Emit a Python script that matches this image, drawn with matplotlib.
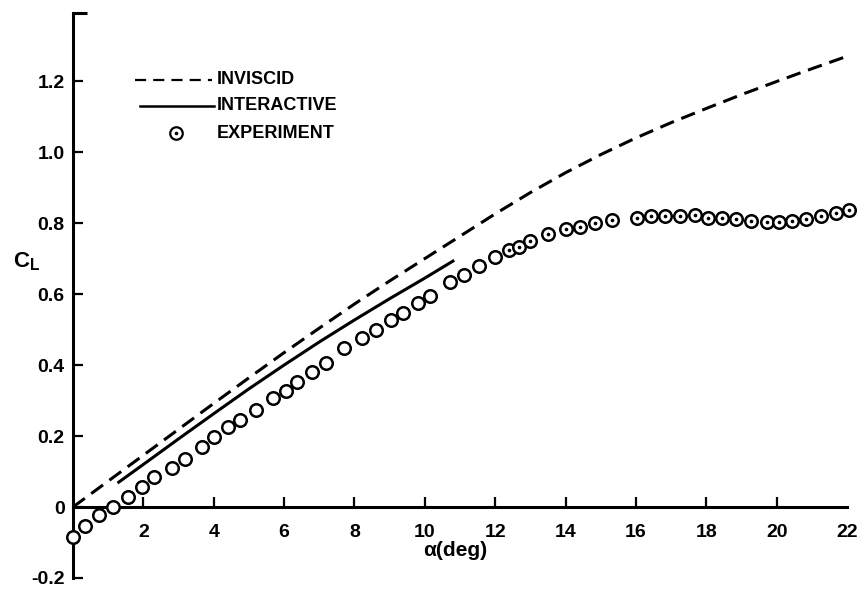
import matplotlib
matplotlib.use("Agg")
import matplotlib.pyplot as plt
import numpy as np

# ---- data ----
inv_alpha = [0, 1, 2, 3, 4, 5, 6, 7, 8, 9, 10, 11, 12, 13, 14, 15, 16, 17,
             18, 19, 20, 21, 22]
inv_cl = [0.0, 0.073, 0.146, 0.219, 0.292, 0.364, 0.435, 0.504, 0.572, 0.637,
          0.70, 0.763, 0.826, 0.886, 0.942, 0.993, 1.04, 1.083, 1.123, 1.162,
          1.199, 1.235, 1.27]

int_alpha = [1.3, 2, 3, 4, 5, 6, 7, 8, 9, 10, 10.8]
int_cl = [0.07, 0.12, 0.192, 0.263, 0.333, 0.40, 0.465, 0.527, 0.587, 0.645,
          0.693]

exp_alpha = [0.0, 0.34, 0.75, 1.15, 1.55, 1.95, 2.3, 2.8, 3.17, 3.66, 4.0, 4.4,
             4.75, 5.2, 5.69, 6.05, 6.37, 6.8, 7.2, 7.71, 8.22, 8.62, 9.05, 9.39,
             9.81, 10.16, 10.72, 11.1, 11.55, 12.0, 12.38, 12.69, 13.0, 13.5, 14.0,
             14.4, 14.85, 15.33, 16.03, 16.42, 16.84, 17.24, 17.67, 18.04, 18.44,
             18.84, 19.26, 19.74, 20.06, 20.45, 20.83, 21.25, 21.68, 22.05]
exp_cl = [-0.085, -0.054, -0.023, 0.0, 0.028, 0.057, 0.085, 0.11, 0.135, 0.17,
          0.197, 0.226, 0.245, 0.273, 0.307, 0.328, 0.352, 0.38, 0.405, 0.448,
          0.476, 0.50, 0.527, 0.547, 0.574, 0.594, 0.634, 0.654, 0.68, 0.704,
          0.724, 0.733, 0.75, 0.769, 0.783, 0.79, 0.80, 0.81, 0.815, 0.82, 0.82,
          0.82, 0.823, 0.815, 0.814, 0.811, 0.806, 0.803, 0.803, 0.806, 0.811,
          0.82, 0.828, 0.837]

xticks = [2, 4, 6, 8, 10, 12, 14, 16, 18, 20, 22]
xticklabels = ["2", "4", "6", "8", "10", "12", "14", "16", "18", "20", "22"]
yticks = [-0.2, 0, 0.2, 0.4, 0.6, 0.8, 1.0, 1.2]
yticklabels = ["-0.2", "0", "0.2", "0.4", "0.6", "0.8", "1.0", "1.2"]
legend_labels = ["INVISCID", "INTERACTIVE", "EXPERIMENT"]

FONT = ['Liberation Sans Narrow', 'Liberation Sans', 'DejaVu Sans']
plt.rcParams['font.family'] = FONT

fig = plt.figure(figsize=(8.64, 5.90), dpi=100)
ax = fig.add_axes([73/864, 1 - 578/590, (847-73)/864, (578-13)/590])
ax.set_xlim(0, 22)
ax.set_ylim(-0.2, 1.392)

k = 'black'
ax.plot(inv_alpha, inv_cl, color=k, lw=2.2, dashes=(4.8, 2.6), zorder=3)
ax.plot(int_alpha, int_cl, color=k, lw=2.2, zorder=3)
ax.plot(exp_alpha, exp_cl, linestyle='none', marker='o', markersize=9,
        markerfacecolor='white', markeredgecolor=k, markeredgewidth=1.8,
        zorder=5, clip_on=False)
ea = np.array(exp_alpha); ec = np.array(exp_cl)
m = ea >= 12.3
ax.plot(ea[m], ec[m], linestyle='none', marker='o', markersize=1.6,
        color=k, zorder=6, clip_on=False)

# spines
for s in ['top', 'right']:
    ax.spines[s].set_visible(False)
ax.spines['left'].set_linewidth(2.2)
ax.spines['bottom'].set_linewidth(2.2)
ax.spines['bottom'].set_position(('data', 0))
ax.spines['bottom'].set_bounds(0, 22)

ax.set_xticks(xticks)
ax.set_xticklabels(xticklabels, fontsize=14, fontweight='bold')
ax.set_yticks(yticks)
ax.set_yticklabels(yticklabels, fontsize=14, fontweight='bold')
ax.tick_params(axis='x', direction='in', length=7, width=1.6, pad=12)
ax.tick_params(axis='y', direction='in', length=7, width=1.6, pad=6)
ax.set_yticks([1.392], minor=True)
ax.tick_params(axis='y', which='minor', direction='in', length=10, width=2.2)
ax.set_xticks([22], minor=True)
ax.tick_params(axis='x', which='minor', direction='in', length=12, width=2.0)
ax.xaxis.get_major_ticks()[-1].tick1line.set_markersize(0)

def fx(px):
    return (px - 73) / (847 - 73)
def fy(py):
    return (578 - py) / (578 - 13)

# axis labels
ax.text(fx(27), fy(262), r'C$_\mathregular{L}$', transform=ax.transAxes,
        fontsize=16, fontweight='bold', ha='center', va='center')
ax.text(fx(455), fy(550), 'α(deg)', transform=ax.transAxes,
        fontsize=15, fontweight='bold', ha='center', va='center')

# legend (manual)
ax.plot([fx(135), fx(212)], [fy(80), fy(80)], transform=ax.transAxes,
        color=k, lw=1.6, dashes=(5, 3.2))
ax.plot([fx(140), fx(214)], [fy(106), fy(106)], transform=ax.transAxes,
        color=k, lw=1.8)
ax.plot([fx(176)], [fy(133)], transform=ax.transAxes, marker='o',
        markersize=9, markerfacecolor='white', markeredgecolor=k,
        markeredgewidth=1.6)
ax.plot([fx(176)], [fy(133)], transform=ax.transAxes, marker='o',
        markersize=1.6, color=k)
for lab, py in zip(legend_labels, [80, 106, 133]):
    ax.text(fx(217), fy(py), lab, transform=ax.transAxes, fontsize=13,
            fontweight='bold', ha='left', va='center')

fig.savefig('out.png', dpi=100)
